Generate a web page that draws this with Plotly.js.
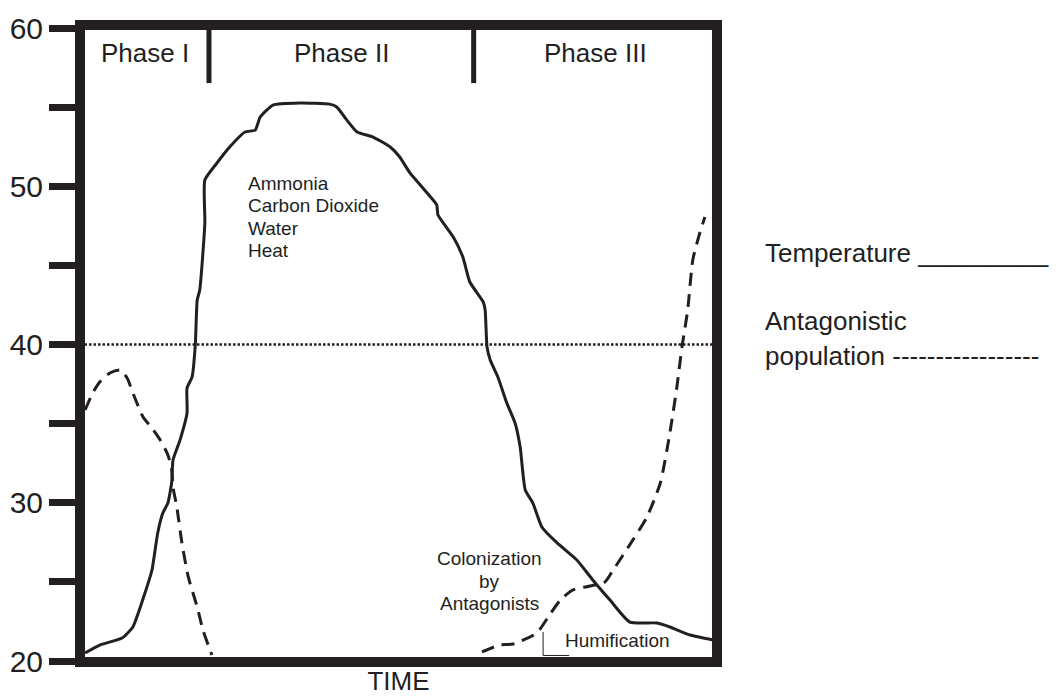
<!DOCTYPE html>
<html>
<head>
<meta charset="utf-8">
<script src="https://cdn.plot.ly/plotly-3.0.1.min.js"></script>
<style>
  html, body { margin: 0; padding: 0; background: #ffffff; }
  #chart { width: 1058px; height: 696px; }
</style>
</head>
<body>
<div id="chart"></div>
<script>
// ---- Data (time in arbitrary units 0-100, values on the 20-60 scale) ----
const tempTime = [0.8, 3.1, 6.6, 8.3, 10.2, 11.3, 12.2, 13.0, 13.8, 14.4, 14.6, 15.7, 16.8, 16.8, 17.6, 18.1, 18.4, 18.8, 19.6, 19.6, 21.5, 23.5, 25.9, 27.5, 28.3, 30.3, 34.5, 39.2, 40.3, 41.9, 43.5, 46.0, 48.7, 50.2, 51.8, 54.5, 56.0, 56.2, 58.6, 60.1, 61.2, 63.3, 63.6, 63.9, 64.4, 65.6, 67.0, 68.3, 69.1, 69.9, 71.1, 72.5, 74.9, 78.0, 80.5, 83.2, 86.3, 90.6, 92.6, 95.8, 99.4];
const temperature = [20.51, 21.01, 21.45, 22.15, 24.30, 25.75, 28.09, 29.35, 29.98, 31.31, 32.70, 33.96, 35.67, 37.25, 37.95, 39.97, 42.81, 43.44, 47.68, 50.39, 51.47, 52.48, 53.43, 53.55, 54.38, 55.13, 55.26, 55.19, 55.01, 54.18, 53.43, 53.11, 52.48, 51.85, 50.84, 49.57, 48.82, 48.18, 46.79, 45.53, 43.95, 42.69, 42.18, 39.84, 39.02, 37.95, 36.30, 35.04, 33.52, 30.81, 29.98, 28.47, 27.46, 26.38, 25.12, 23.85, 22.46, 22.40, 22.15, 21.64, 21.33];

const antagEarlyTime = [0.8, 2.0, 3.1, 4.7, 6.3, 7.4, 8.3, 9.9, 11.3, 12.6, 13.8, 14.4, 14.6, 15.2, 16.0, 17.0, 18.4, 19.3, 20.7];
const antagEarly = [35.86, 36.94, 37.63, 38.20, 38.39, 37.88, 36.94, 35.42, 34.72, 33.96, 33.02, 32.07, 31.00, 29.73, 27.46, 25.31, 23.41, 21.96, 20.38];

const antagLateTime = [63.1, 65.9, 68.0, 71.7, 73.5, 75.4, 77.4, 80.1, 82.4, 83.7, 86.8, 89.0, 91.1, 92.6, 93.7, 94.5, 95.4, 96.2, 97.3, 98.1];
const antagLate = [20.57, 21.01, 21.07, 21.77, 22.78, 23.85, 24.49, 24.74, 24.99, 25.75, 27.65, 29.10, 31.25, 34.41, 37.31, 39.84, 42.18, 45.34, 47.05, 48.06];

const phaseBounds = [20.25, 61.8];
const phaseLabels = ['Phase I', 'Phase II', 'Phase III'];
const refLevel = 40;

const yTickVals = [20, 25, 30, 35, 40, 45, 50, 55, 60];
const yTickText = ['20', '', '30', '', '40', '', '50', '', '60'];

// ---- Styling ----
const INK = '#231f20';
const FONT = 'Liberation Sans, Arial, Helvetica, sans-serif';
const X0 = 0, X1 = 100;

const traces = [
  { x: tempTime, y: temperature, mode: 'lines', name: 'Temperature',
    line: { color: INK, width: 3, shape: 'spline', smoothing: 0.5 }, hoverinfo: 'skip' },
  { x: antagEarlyTime, y: antagEarly, mode: 'lines', name: 'Antagonistic population',
    line: { color: INK, width: 3, dash: '13px,8px', shape: 'spline', smoothing: 0.6 }, hoverinfo: 'skip' },
  { x: antagLateTime, y: antagLate, mode: 'lines', name: 'Antagonistic population',
    line: { color: INK, width: 3, dash: '13px,8px', shape: 'spline', smoothing: 0.6 }, hoverinfo: 'skip' }
];

const bounds = [X0].concat(phaseBounds, [X1]);
const phaseAnn = phaseLabels.map((t, i) => ({
  text: t, x: (bounds[i] + bounds[i + 1]) / 2, y: 58.40, xref: 'x', yref: 'y',
  xanchor: 'center', yanchor: 'middle', showarrow: false,
  font: { family: FONT, size: 26, color: INK }
}));

function txt(text, x, y, size, xanchor, xref) {
  return { text: text, x: x, y: y, xref: xref || 'x', yref: 'y', xanchor: xanchor,
    yanchor: 'middle', showarrow: false, font: { family: FONT, size: size, color: INK } };
}

const annotations = phaseAnn.concat([
  txt('Ammonia', 26.06, 50.16, 19, 'left'),
  txt('Carbon Dioxide', 26.06, 48.77, 19, 'left'),
  txt('Water', 26.06, 47.32, 19, 'left'),
  txt('Heat', 26.06, 45.93, 19, 'left'),
  txt('Colonization', 64.36, 26.46, 19, 'center'),
  txt('by', 64.36, 25.01, 19, 'center'),
  txt('Antagonists', 64.36, 23.62, 19, 'center'),
  txt('Humification', 75.82, 21.28, 19, 'left'),
  txt('Temperature _________', 1.0722, 45.76, 26, 'left', 'paper'),
  txt('Antagonistic', 1.0722, 41.46, 26, 'left', 'paper'),
  txt('population -----------------', 1.0722, 39.25, 26, 'left', 'paper')
]);

const shapes = [
  // dotted reference line
  { type: 'line', xref: 'paper', yref: 'y', x0: 0, x1: 1, y0: refLevel, y1: refLevel,
    line: { color: INK, width: 2.5, dash: '2.5px,2px' }, layer: 'below' },
  // Humification bracket
  { type: 'path', xref: 'x', yref: 'y', path: 'M 72.7 21.83 L 72.7 20.35 L 76.8 20.35',
    line: { color: INK, width: 1 } },
  // phase dividers
  ...phaseBounds.map(b => ({ type: 'line', xref: 'x', yref: 'paper', x0: b, x1: b, y0: 1, y1: 0.9088,
    line: { color: INK, width: 5 } })),
  // frame
  { type: 'rect', xref: 'paper', yref: 'paper', x0: 0, x1: 1, y0: 0, y1: 1,
    line: { color: INK, width: 10 } }
];

const layout = {
  width: 1058, height: 696,
  margin: { l: 80, r: 341, t: 25, b: 34 },
  paper_bgcolor: '#ffffff', plot_bgcolor: '#ffffff',
  showlegend: false,
  font: { family: FONT, color: INK },
  xaxis: {
    range: [X0, X1], showgrid: false, zeroline: false, showline: false,
    showticklabels: false, ticks: '',
    title: { text: 'TIME', font: { family: FONT, size: 26, color: INK }, standoff: 13 }
  },
  yaxis: {
    range: [19.937, 60.19], showgrid: false, zeroline: false, showline: false,
    tickmode: 'array', tickvals: yTickVals, ticktext: yTickText,
    ticks: 'outside', ticklen: 30, tickwidth: 7, tickcolor: INK,
    tickfont: { family: FONT, size: 30, color: INK }
  },
  annotations: annotations,
  shapes: shapes
};

Plotly.newPlot('chart', traces, layout, { displayModeBar: false, staticPlot: true });
</script>
</body>
</html>
